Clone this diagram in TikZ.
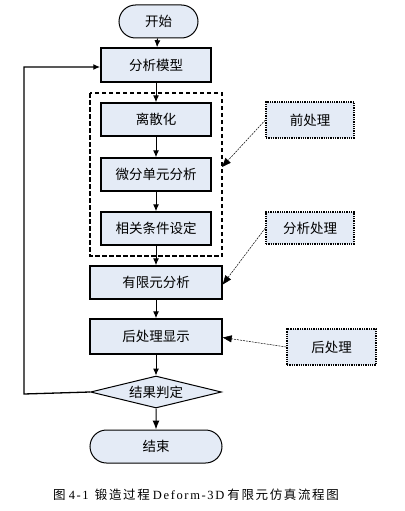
\documentclass[tikz,border=0pt]{standalone}
\usepackage{fontspec}
\setmainfont{Liberation Serif}
\newfontfamily\cjk{Noto Sans CJK SC}
\newfontfamily\cjkcap[LetterSpace=13]{Noto Sans CJK SC}
\newfontfamily\latcap[LetterSpace=13]{Liberation Serif}
\usetikzlibrary{arrows.meta,shapes.geometric,shapes.misc}
\definecolor{boxfill}{HTML}{E4EBF6}
\tikzset{
  procbox/.style={draw=black,line width=1.5pt,fill=boxfill,minimum height=33pt,font=\cjk\fontsize{13.5}{14}\selectfont,inner sep=0pt},
  termbox/.style={procbox,rounded rectangle,line width=1pt},
  decbox/.style={draw=black,line width=1pt,fill=boxfill,diamond,aspect=4.1,minimum width=131pt,minimum height=32pt,inner sep=0pt,font=\cjk\fontsize{13.5}{14}\selectfont},
  notebox/.style={draw=black,line width=1.3pt,densely dotted,fill=boxfill,minimum height=35pt,font=\cjk\fontsize{13.5}{14}\selectfont,inner sep=0pt},
  flow/.style={-{Latex[length=7pt,width=6pt]},line width=1pt},
  noteflow/.style={-{Triangle[length=9pt,width=7pt]},line width=0.5pt,dash pattern=on 2pt off 1pt},
}
\begin{document}
\begin{tikzpicture}[x=1pt,y=-1pt]
\useasboundingbox (0,0) rectangle (404,511);
\node[termbox,minimum width=79pt] (start) at (158.5,21.5) {开始};
\node[procbox,minimum width=110pt,minimum height=34pt] (model) at (156,65) {分析模型};
\draw[line width=1.2pt,dash pattern=on 4.5pt off 2.5pt] (90,93) rectangle (222,256);
\coordinate (dashR) at (222,167);
\node[procbox,minimum width=110pt] (disc) at (156,119.5) {离散化};
\node[procbox,minimum width=110pt] (elem) at (156,174.5) {微分单元分析};
\node[procbox,minimum width=110pt] (cond) at (156,228.5) {相关条件设定};
\node[procbox,minimum width=132pt] (fea) at (156,282.5) {有限元分析};
\node[procbox,minimum width=132pt,minimum height=35pt] (post) at (156,336.5) {后处理显示};
\node[decbox] (judge) at (156,392) {结果判定};
\node[termbox,minimum width=132pt] (end) at (156,446.5) {结束};
\node[notebox,minimum width=88pt,minimum height=36pt] (pre) at (310,120) {前处理};
\node[notebox,minimum width=88pt,minimum height=32pt] (ana) at (310,228) {分析处理};
\node[notebox,minimum width=89pt,minimum height=36pt] (pp) at (331.5,347) {后处理};
\coordinate (loopB) at (24,394);
\coordinate (loopT) at (24,67);
\draw[flow] (start) -- (model);
\draw[flow] (model) -- (disc);
\draw[flow] (disc) -- (elem);
\draw[flow] (elem) -- (cond);
\draw[flow] (cond) -- (fea);
\draw[flow] (fea) -- (post);
\draw[flow] (post) -- (judge);
\draw[-{Latex[length=9pt,width=7pt]},line width=1pt] (judge) -- (end);
\draw[flow,line width=1.3pt] (judge.west) -- (loopB) -- (loopT) -- (model.west|-loopT);
\draw[noteflow] (pre.west) -- (dashR);
\draw[noteflow] (ana.west) -- ([yshift=-2pt]fea.east);
\draw[noteflow] (pp.west) -- ([yshift=-1pt]post.east);
\node[font=\fontsize{12.5}{13}\selectfont] (cap) at (196,495) {{\cjkcap 图} {\latcap 4-1} \ {\cjkcap 锻造过程} {\latcap Deform-3D} {\cjkcap 有限元仿真流程图}};
\end{tikzpicture}
\end{document}
